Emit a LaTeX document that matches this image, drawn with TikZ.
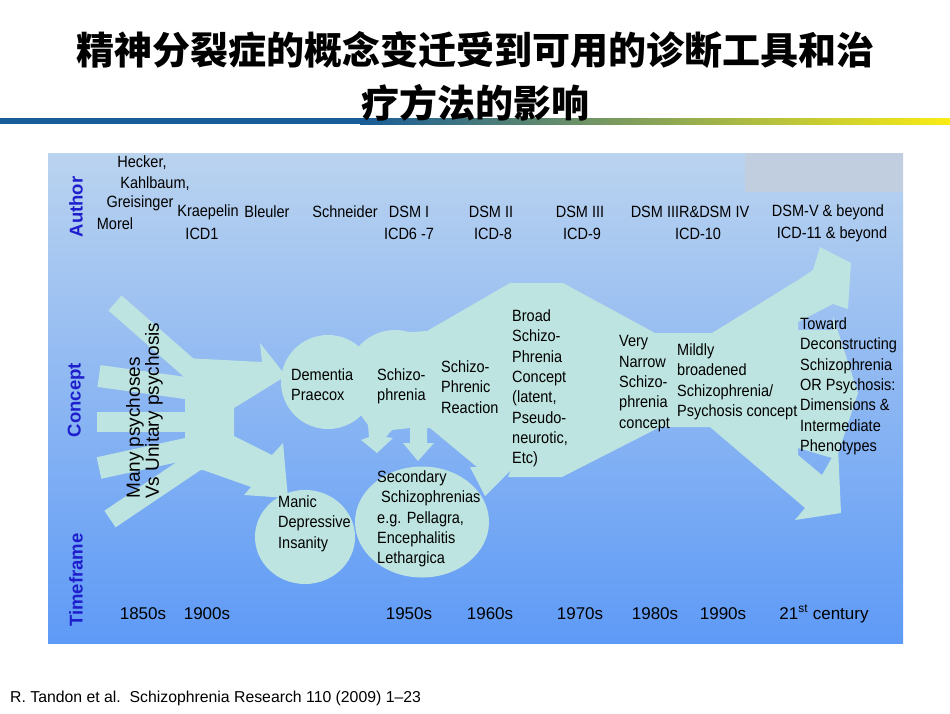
\documentclass[tikz,border=0pt]{standalone}
\usepackage{fontspec}
\setmainfont{Liberation Sans}
\newfontfamily\narrowsans{Liberation Sans}[FakeStretch=0.89]
\newfontfamily\cjk{Noto Sans CJK SC}
\definecolor{panelTop}{RGB}{186,211,239}
\definecolor{panelMid}{RGB}{128,183,246}
\definecolor{panelBot}{RGB}{94,154,246}
\definecolor{conceptfill}{RGB}{189,228,224}
\definecolor{axisblue}{RGB}{30,30,205}
\definecolor{rulerblue}{RGB}{24,92,152}
\definecolor{rulergreen}{RGB}{125,172,88}
\definecolor{rulerYellow}{RGB}{250,236,20}
\definecolor{cornergray}{RGB}{192,206,224}
\begin{document}
\begin{tikzpicture}[x=1pt,y=-1pt,
	concept/.style={fill=conceptfill},
	bar/.style={draw=conceptfill,line width=#1pt},
	titletxt/.style={font=\cjk\bfseries\fontsize{38}{40}\selectfont,inner sep=0pt},
	axislabel/.style={font=\fontsize{18.5}{20}\selectfont\bfseries,text=axisblue,rotate=90,inner sep=0pt},
	authortxt/.style={font=\narrowsans\fontsize{16.3}{18}\selectfont,inner sep=0pt},
	timetxt/.style={font=\fontsize{17}{20}\selectfont,inner sep=0pt},
	concepttxt/.style={font=\narrowsans\fontsize{16.3}{20.3}\selectfont,align=left,anchor=north west,inner sep=0pt}]
	\useasboundingbox (0,0) rectangle (950,713);
	\fill[white] (0,0) rectangle (950,713);
	% title and ruler
	\fill[rulerblue] (0,118) rectangle (360,124);
	\shade[left color=rulerblue,middle color=rulergreen,right color=rulerYellow] (360,118) rectangle (950,124);
	\node[titletxt] (title1) at (475,50) {精神分裂症的概念变迁受到可用的诊断工具和治};
	\node[titletxt] (title2) at (475,103) {疗方法的影响};
	% panel
	\shade[top color=panelTop,middle color=panelMid,bottom color=panelBot] (48,153) rectangle (903,643);
	\fill[cornergray] (745,153) rectangle (903,192);
	% fan of psychoses
	\foreach \sx/\sy/\ex/\ey/\w in {115/303/205/382/20, 99/376/200/390/22, 97/422/200/422/20, 99/468/200/446/22, 110/519/205/455/20}
		\draw[bar=\w] (\sx,\sy) -- (\ex,\ey);
	\fill[concept] (185,358) -- (262,362) -- (260,343) -- (286,376) -- (234,408) -- (234,436) -- (272,455) -- (283,443) -- (288,498) -- (244,495) -- (251,487) -- (203,470) -- (185,470) -- cycle;
	% circles
	\fill[concept] (305,537) ellipse [x radius=50pt,y radius=47pt];
	\fill[concept] (422,522) ellipse [x radius=67pt,y radius=55.5pt];
	\fill[concept] (328,382) circle [radius=47pt];
	\fill[concept] (395,378) circle [radius=48pt];
	% main body
	\fill[concept] (395,333) -- (427,331) -- (510,283) -- (563,283) -- (655,333) -- (712,333) -- (798,280) -- (798,502) -- (710,427) -- (660,427) -- (562,477) -- (508,477) -- (511,470) -- (485,496) -- (470,467) -- (477,467) -- (430,428)
		-- (427,428) -- (427,443) -- (434,443) -- (418,461) -- (403,443) -- (410,443) -- (410,428) -- (392,430)
		-- (386,437) -- (393,438) -- (377,453) -- (361,440) -- (369,437) -- (368,425) -- (350,400) -- cycle;
	% arrows at the right end
	\fill[concept] (798,280) -- (813,270) -- (820,247) -- (851,263) -- (848,309) -- (833,304) -- (798,322) -- cycle;
	\fill[concept] (798,330) -- (833,330) -- (833,316) -- (858,393) -- (832,472) -- (832,458) -- (798,448) -- cycle;
	\fill[concept] (798,455) -- (822,475) -- (838,447) -- (841,513) -- (795,520) -- (805,508) -- (798,502) -- cycle;
	% row labels
	\node[axislabel] (author) at (76,207) {Author};
	\node[axislabel] (concept) at (76,400) {Concept};
	\node[axislabel] (timeframe) at (76,580) {Timeframe};
	% authors
	\node[authortxt] (hecker) at (142,163) {Hecker,};
	\node[authortxt] (kahlbaum) at (155,184) {Kahlbaum,};
	\node[authortxt] (greisinger) at (140,203) {Greisinger};
	\node[authortxt] (morel) at (115,224) {Morel};
	\node[authortxt] (kraepelin) at (208,212) {Kraepelin};
	\node[authortxt] (icdone) at (202,234) {ICD1};
	\node[authortxt] (bleuler) at (267,212) {Bleuler};
	\node[authortxt] (schneider) at (345,212) {Schneider};
	\node[authortxt] (dsmone) at (409,212) {DSM I};
	\node[authortxt] (icdsix) at (409,234) {ICD6 -7};
	\node[authortxt] (dsmtwo) at (491,212) {DSM II};
	\node[authortxt] (icdeight) at (493,234) {ICD-8};
	\node[authortxt] (dsmthree) at (580,212) {DSM III};
	\node[authortxt] (icdnine) at (582,234) {ICD-9};
	\node[authortxt] (dsmfour) at (690,212) {DSM IIIR\&DSM IV};
	\node[authortxt] (icdten) at (698,234) {ICD-10};
	\node[authortxt] (dsmfive) at (828,212) {DSM-V \& beyond};
	\node[authortxt] (icdeleven) at (832,234) {ICD-11 \& beyond};
	% concepts
	\node[font=\fontsize{19}{19}\selectfont,align=left,rotate=90,anchor=north west,inner sep=0pt] (many) at (126,499) {Many psychoses\\Vs Unitary psychosis};
	\node[concepttxt] (dementia) at (291,368.5) {Dementia\\Praecox};
	\node[concepttxt] (schizo) at (377,368.5) {Schizo-\\phrenia};
	\node[concepttxt] (reaction) at (441,360.5) {Schizo-\\Phrenic\\Reaction};
	\node[concepttxt] (broad) at (512,309.5) {Broad\\Schizo-\\Phrenia\\Concept\\(latent,\\Pseudo-\\neurotic,\\Etc)};
	\node[concepttxt] (narrow) at (619,335.5) {Very\\Narrow\\Schizo-\\phrenia\\concept};
	\node[concepttxt] (mildly) at (677,343.5) {Mildly\\broadened\\Schizophrenia/\\Psychosis concept};
	\node[concepttxt] (toward) at (800,317.5) {Toward\\Deconstructing\\Schizophrenia\\OR Psychosis:\\Dimensions \&\\Intermediate\\Phenotypes};
	\node[concepttxt] (manic) at (278,495.5) {Manic\\Depressive\\Insanity};
	\node[concepttxt] (secondary) at (377,470.5) {Secondary\\\hspace{4pt}Schizophrenias\\e.g. Pellagra,\\Encephalitis\\Lethargica};
	% timeframe
	\node[timetxt] (t1850) at (143,614) {1850s};
	\node[timetxt] (t1900) at (207,614) {1900s};
	\node[timetxt] (t1950) at (409,614) {1950s};
	\node[timetxt] (t1960) at (490,614) {1960s};
	\node[timetxt] (t1970) at (580,614) {1970s};
	\node[timetxt] (t1980) at (655,614) {1980s};
	\node[timetxt] (t1990) at (723,614) {1990s};
	\node[timetxt] (tcentury) at (824,614) {21\textsuperscript{st} century};
	% source
	\node[font=\fontsize{15.8}{18}\selectfont,anchor=west,inner sep=0pt] (source) at (10,698) {R. Tandon et al.\ \ Schizophrenia Research 110 (2009) 1--23};
\end{tikzpicture}
\end{document}
